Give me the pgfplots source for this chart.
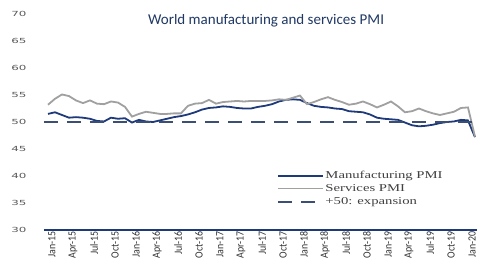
\documentclass[border=0pt]{standalone}
\usepackage{fontspec}
\setmainfont{Carlito}
\newfontfamily\yfont[FakeStretch=1.7]{DejaVu Sans}
\newfontfamily\legfont[FakeStretch=1.4]{Liberation Serif}
\newfontfamily\xfont[FakeStretch=0.9]{Carlito}
\usepackage{pgfplots}
\usepackage{pgfplotstable}
\pgfplotsset{compat=1.18}
\definecolor{navy}{HTML}{1F3A7A}
\definecolor{servgray}{HTML}{A0A0A0}
\definecolor{dashnavy}{HTML}{3B4E74}
\definecolor{titleblue}{HTML}{1F3864}
\pgfplotstableread{
i man ser
0 51.5 53.2
1 51.8 54.3
2 51.3 55.1
3 50.8 54.8
4 50.9 54.0
5 50.8 53.5
6 50.6 54.0
7 50.2 53.4
8 50.1 53.3
9 50.8 53.8
10 50.6 53.6
11 50.7 52.8
12 49.9 51.0
13 50.4 51.5
14 50.1 51.9
15 50.0 51.7
16 50.3 51.5
17 50.6 51.5
18 50.9 51.6
19 51.1 51.6
20 51.4 53.0
21 51.8 53.4
22 52.3 53.5
23 52.6 54.1
24 52.7 53.4
25 52.9 53.7
26 52.8 53.8
27 52.6 53.9
28 52.5 53.8
29 52.5 53.9
30 52.8 53.9
31 53.0 53.9
32 53.3 54.0
33 53.8 54.2
34 54.1 54.1
35 54.2 54.5
36 54.1 54.9
37 53.5 53.3
38 53.0 53.7
39 52.8 54.2
40 52.7 54.6
41 52.5 54.1
42 52.4 53.7
43 52.0 53.2
44 51.9 53.4
45 51.8 53.8
46 51.4 53.3
47 50.8 52.7
48 50.6 53.2
49 50.5 53.8
50 50.4 52.9
51 49.9 51.8
52 49.4 52.0
53 49.2 52.5
54 49.3 52.0
55 49.5 51.6
56 49.8 51.3
57 50.0 51.6
58 50.1 51.9
59 50.4 52.6
60 50.3 52.7
61 47.2 47.3
}\pmi
\begin{document}
\begin{tikzpicture}
\begin{axis}[
  at={(0,0)}, anchor=south west,
  scale only axis, width=433pt, height=216pt,
  xmin=-0.57, xmax=61.29, ymin=30, ymax=70,
  axis y line*=left,
  y axis line style={draw=none},
  axis x line*=bottom,
  x axis line style={draw=navy, line width=1.2pt},
  major tick length=0pt,
  ytick={30,35,...,70},
  xtick={0,3,...,60},
  xticklabels={Jan-15,Apr-15,Jul-15,Oct-15,Jan-16,Apr-16,Jul-16,Oct-16,Jan-17,Apr-17,Jul-17,Oct-17,Jan-18,Apr-18,Jul-18,Oct-18,Jan-19,Apr-19,Jul-19,Oct-19,Jan-20},
  xticklabel style={rotate=90, anchor=east, font=\xfont\fontsize{11}{12}\selectfont, text=black!80, inner sep=1pt, yshift=-4pt},
  yticklabel style={font=\yfont\fontsize{7}{8}\selectfont, text=black!65, anchor=east, xshift=-14pt},
  /pgf/number format/assume math mode=true,
  legend style={at={(rel axis cs:0.538,0.28)}, anchor=north west, draw=none, fill=none,
    font=\legfont\fontsize{10.5}{11}\selectfont, text=black!75, row sep=1.5pt, inner sep=0pt,
    nodes={inner sep=1.5pt}},
  legend cell align=left,
  legend image code/.code={\draw[#1] (0pt,0pt) -- (45pt,0pt);},
]
\addplot[navy, line width=1.8pt] table[x=i, y=man] {\pmi};
\addlegendentry{Manufacturing PMI}
\addplot[servgray, line width=1.8pt, legend image code/.code={\draw[servgray, line width=1.1pt] (0pt,0pt) -- (45pt,0pt);}] table[x=i, y=ser] {\pmi};
\addlegendentry{Services PMI}
\addplot[dashnavy, line width=1.4pt, dash pattern=on 14pt off 9pt] coordinates {(-0.57,50) (61.29,50)};
\addlegendentry{+50: expansion}
\node[font=\fontsize{15}{17}\selectfont, text=titleblue] at (rel axis cs:0.513,0.968) {World manufacturing and services PMI};
\end{axis}
\pgfresetboundingbox
\path[use as bounding box] (-44pt,-36pt) rectangle (433pt,230pt);
\end{tikzpicture}
\end{document}
